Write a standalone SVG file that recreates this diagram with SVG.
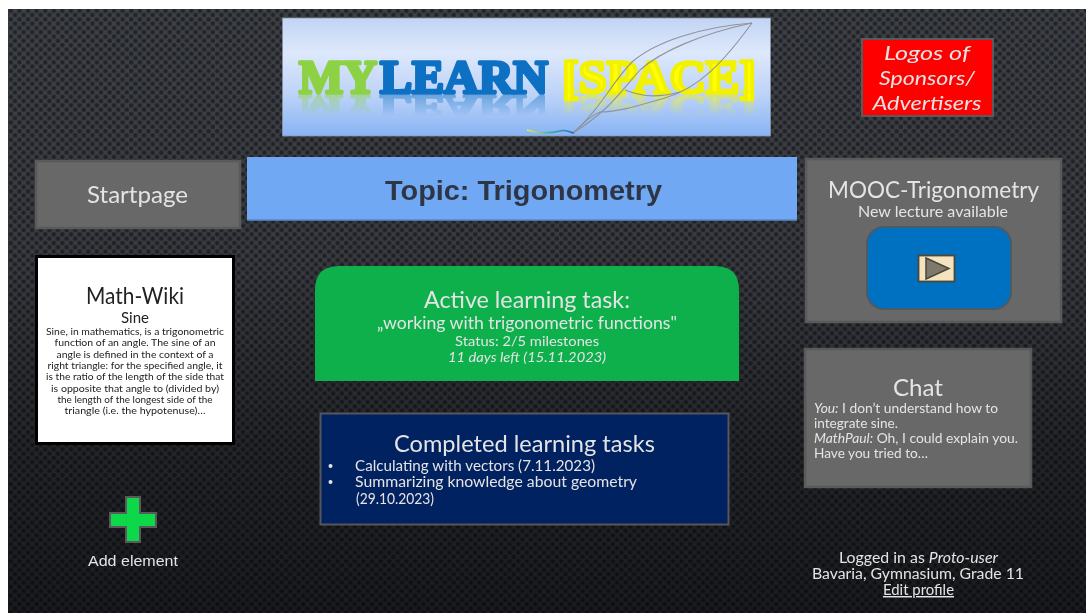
<svg xmlns="http://www.w3.org/2000/svg" width="1086" height="613" viewBox="0 0 1086 613">
<style>
text{font-family:"Lato","Open Sans","Liberation Sans",sans-serif;fill:#e4e4e4}
.c{text-anchor:middle}
.box{fill:#686868;stroke:#5a5a5a;stroke-width:2.500}
.w{fill:#222}
.i{font-style:italic}
.logo{font-family:"Liberation Serif",serif;font-weight:700;font-size:46px;stroke-width:3.400;stroke-linejoin:round}
</style>
<defs>
<linearGradient id="bg" x1="0" y1="0" x2="0" y2="1"><stop offset="0" stop-color="#3d4046"/><stop offset=".42" stop-color="#383a40"/><stop offset=".72" stop-color="#232529"/><stop offset="1" stop-color="#191b1f"/></linearGradient>
<radialGradient id="dot"><stop offset="0" stop-color="#000" stop-opacity=".5"/><stop offset=".55" stop-color="#000" stop-opacity=".4"/><stop offset="1" stop-color="#000" stop-opacity="0"/></radialGradient>
<linearGradient id="sky" x1="0" y1="0" x2="0" y2="1"><stop offset="0" stop-color="#c2d4f4"/><stop offset=".3" stop-color="#dde8fb"/><stop offset=".65" stop-color="#bcd3f8"/><stop offset="1" stop-color="#88b3f4"/></linearGradient>
<linearGradient id="ink" x1="0" y1="0" x2="1" y2="0"><stop offset="0" stop-color="#f4e64a"/><stop offset=".45" stop-color="#43b6a0"/><stop offset="1" stop-color="#2a6fc0"/></linearGradient>
<linearGradient id="fade" gradientUnits="userSpaceOnUse" x1="0" y1="94" x2="0" y2="116"><stop offset="0" stop-color="#fff" stop-opacity=".5"/><stop offset="1" stop-color="#fff" stop-opacity="0"/></linearGradient>
<mask id="refl" maskUnits="userSpaceOnUse" x="282" y="90" width="490" height="40"><rect x="282" y="90" width="490" height="40" fill="url(#fade)"/></mask>
<pattern id="dots" width="8.600" height="8.600" patternUnits="userSpaceOnUse"><circle cx="2.150" cy="2.150" r="3" fill="url(#dot)"/><circle cx="6.450" cy="6.450" r="3" fill="url(#dot)"/></pattern>
<filter id="soft" x="-2%" y="-2%" width="104%" height="104%"><feGaussianBlur stdDeviation=".4"/></filter>
</defs>
<rect width="1086" height="613" fill="#fff"/>
<rect x="8" y="9" width="1078" height="604" fill="url(#bg)"/>
<rect x="8" y="9" width="1078" height="604" fill="url(#dots)"/>
<g filter="url(#soft)">
<g id="logo">
<rect x="282.500" y="18" width="488" height="118" fill="url(#sky)" stroke="#8a94a8" stroke-width=".8"/>
<g id="logo-word">
<text class="logo" x="299" y="93" textLength="78" lengthAdjust="spacingAndGlyphs" style="fill:#8dd245;stroke:#8dd245">MY</text>
<text class="logo" x="380" y="93" textLength="168" lengthAdjust="spacingAndGlyphs" style="fill:#0d70c2;stroke:#0d70c2">LEARN</text>
<text class="logo" x="562" y="93" textLength="194" lengthAdjust="spacingAndGlyphs" style="fill:#ffff00;stroke:#f2f200">[SPACE]</text>
</g>
<g mask="url(#refl)"><use href="#logo-word" transform="translate(0,95) scale(1,-.68) translate(0,-94)"/></g>
<g fill="none" stroke="#8f949c" stroke-width="1.100">
<path d="M752 23C700 27 655 42 632 62C612 82 600 110 573 133"/>
<path d="M752 23C725 60 700 88 665 98C640 105 620 112 600 112C592 115 585 122 573 133"/>
<path d="M752 23C700 34 660 52 640 70C622 90 610 110 573 133"/>
<path d="M625 90C645 98 660 97 680 92"/>
</g>
<path d="M527 130C540 134 552 133 560 131C566 129 570 133 574 133" fill="none" stroke="url(#ink)" stroke-width="1.600"/>
</g>
<g id="sponsors">
<rect x="862" y="39" width="131" height="77" fill="#fe0000" stroke="#5a5a5a" stroke-width="2"/>
<text class="c i" x="927" y="60" font-size="20" textLength="86" lengthAdjust="spacingAndGlyphs">Logos of</text>
<text class="c i" x="927" y="85" font-size="20" textLength="96" lengthAdjust="spacingAndGlyphs">Sponsors/</text>
<text class="c i" x="927" y="110" font-size="20" textLength="109" lengthAdjust="spacingAndGlyphs">Advertisers</text>
</g>
<g id="startpage">
<rect class="box" x="36" y="161" width="204" height="67"/>
<text class="c" x="137.500" y="203" font-size="23" textLength="101" lengthAdjust="spacingAndGlyphs">Startpage</text>
</g>
<g id="topic">
<rect x="247" y="157" width="550" height="64" fill="#6fa8f3"/>
<rect x="247" y="219.500" width="550" height="1.500" fill="#4a78b0"/>
<text class="c" x="523.500" y="200" font-size="27" font-weight="700" textLength="277" lengthAdjust="spacingAndGlyphs" style="font-family:'Liberation Sans',sans-serif;fill:#2f3645">Topic: Trigonometry</text>
</g>
<g id="math-wiki">
<rect x="36.500" y="256.500" width="197" height="187" fill="#fff" stroke="#000" stroke-width="3"/>
<text class="c w" x="135" y="304" font-size="24" textLength="98" lengthAdjust="spacingAndGlyphs">Math-Wiki</text>
<text class="c w" x="135" y="323" font-size="15" textLength="28" lengthAdjust="spacingAndGlyphs">Sine</text>
<text class="c w" x="135" y="335" font-size="9.500" textLength="178" lengthAdjust="spacingAndGlyphs">Sine, in mathematics, is a trigonometric</text>
<text class="c w" x="135" y="346" font-size="9.500" textLength="161" lengthAdjust="spacingAndGlyphs">function of an angle. The sine of an</text>
<text class="c w" x="135" y="357.500" font-size="9.500" textLength="157" lengthAdjust="spacingAndGlyphs">angle is defined in the context of a</text>
<text class="c w" x="135" y="369" font-size="9.500" textLength="175" lengthAdjust="spacingAndGlyphs">right triangle: for the specified angle, it</text>
<text class="c w" x="135" y="380" font-size="9.500" textLength="178" lengthAdjust="spacingAndGlyphs">is the ratio of the length of the side that</text>
<text class="c w" x="135" y="391.500" font-size="9.500" textLength="168" lengthAdjust="spacingAndGlyphs">is opposite that angle to (divided by)</text>
<text class="c w" x="135" y="402.500" font-size="9.500" textLength="155" lengthAdjust="spacingAndGlyphs">the length of the longest side of the</text>
<text class="c w" x="135" y="414" font-size="9.500" textLength="141" lengthAdjust="spacingAndGlyphs">triangle (i.e. the hypotenuse)…</text>
</g>
<g id="active-task">
<path d="M315 381V290Q315 266 339 266H715Q739 266 739 290V381Z" fill="#0cb04c"/>
<text class="c" x="527" y="308" font-size="23" textLength="206" lengthAdjust="spacingAndGlyphs">Active learning task:</text>
<text class="c" x="527" y="329" font-size="17.500" textLength="300" lengthAdjust="spacingAndGlyphs">„working with trigonometric functions"</text>
<text class="c" x="527" y="346" font-size="14" textLength="144" lengthAdjust="spacingAndGlyphs">Status: 2/5 milestones</text>
<text class="c i" x="527" y="362" font-size="14" textLength="158" lengthAdjust="spacingAndGlyphs">11 days left (15.11.2023)</text>
</g>
<g id="completed-tasks">
<rect x="320.500" y="413.500" width="408" height="111" fill="#002060" stroke="#56565c" stroke-width="2"/>
<text class="c" x="524.500" y="452" font-size="23" textLength="261" lengthAdjust="spacingAndGlyphs">Completed learning tasks</text>
<circle cx="330.500" cy="466" r="2" fill="#e4e4e4"/>
<circle cx="330.500" cy="482" r="2" fill="#e4e4e4"/>
<text x="355" y="471" font-size="14.500" textLength="240" lengthAdjust="spacingAndGlyphs">Calculating with vectors (7.11.2023)</text>
<text x="355" y="487" font-size="14.500" textLength="282" lengthAdjust="spacingAndGlyphs">Summarizing knowledge about geometry</text>
<text x="356" y="504" font-size="14.500" textLength="78" lengthAdjust="spacingAndGlyphs">(29.10.2023)</text>
</g>
<g id="mooc">
<rect class="box" x="806" y="159" width="255" height="163"/>
<text class="c" x="933.500" y="198" font-size="24" textLength="211" lengthAdjust="spacingAndGlyphs">MOOC-Trigonometry</text>
<text class="c" x="933" y="217" font-size="15" textLength="150" lengthAdjust="spacingAndGlyphs">New lecture available</text>
<rect x="867" y="227" width="144" height="82" rx="17" fill="#0070c0" stroke="#4a5a68" stroke-width="2"/>
<rect x="918.500" y="255.500" width="36" height="26" fill="#f3e3bf" stroke="#4a4637" stroke-width="1.800"/>
<path d="M926 258V279L949 268.500Z" fill="#7d7a6d" stroke="#4a4637" stroke-width="1.500"/>
</g>
<g id="chat">
<rect class="box" x="805" y="349" width="226" height="138"/>
<text class="c" x="918" y="396" font-size="23" textLength="50" lengthAdjust="spacingAndGlyphs">Chat</text>
<text x="814" y="413" font-size="13" textLength="184" lengthAdjust="spacingAndGlyphs"><tspan class="i">You:</tspan> I don’t understand how to</text>
<text x="814" y="428" font-size="13" textLength="84" lengthAdjust="spacingAndGlyphs">integrate sine.</text>
<text x="814" y="443" font-size="13" textLength="204" lengthAdjust="spacingAndGlyphs"><tspan class="i">MathPaul:</tspan> Oh, I could explain you.</text>
<text x="814" y="457.500" font-size="13" textLength="114" lengthAdjust="spacingAndGlyphs">Have you tried to…</text>
</g>
<g id="add-element">
<path d="M126 497H140V513H156V527H140V542H126V527H110V513H126Z" fill="#10d84a" stroke="#5a5a5a" stroke-width="2"/>
<text class="c" x="133" y="566" font-size="15" textLength="90" lengthAdjust="spacingAndGlyphs" style="font-family:'Liberation Sans',sans-serif">Add element</text>
</g>
<g id="profile">
<text class="c" x="918.500" y="563" font-size="14.500" textLength="159" lengthAdjust="spacingAndGlyphs">Logged in as <tspan class="i">Proto-user</tspan></text>
<text class="c" x="918" y="579" font-size="14.500" textLength="212" lengthAdjust="spacingAndGlyphs">Bavaria, Gymnasium, Grade 11</text>
<text class="c" x="918.500" y="595" font-size="14.500" textLength="71" lengthAdjust="spacingAndGlyphs" text-decoration="underline">Edit profile</text>
</g>
</g>
</svg>
